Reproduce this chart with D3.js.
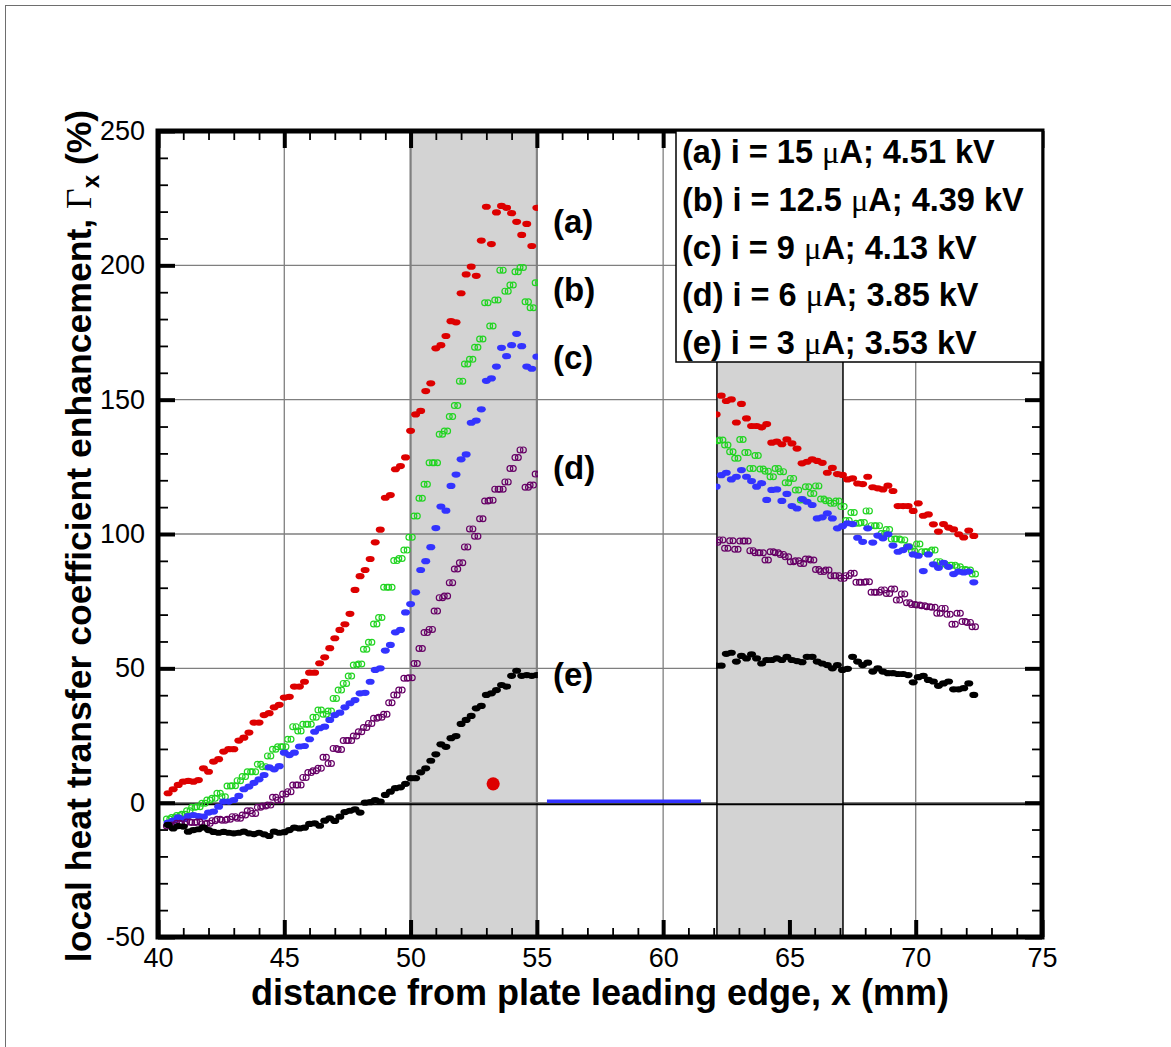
<!DOCTYPE html>
<html>
<head>
<meta charset="utf-8">
<script src="https://cdnjs.cloudflare.com/ajax/libs/d3/7.8.5/d3.min.js"></script>
<style>
body { margin: 0; background: #fff; }
svg { display: block; }
text { white-space: pre; }
</style>
</head>
<body>
<div id="chart"></div>
<script>
// sample positions (mm) of the two measured windows
var xLeft = [40.4,40.6,40.8,41.0,41.2,41.4,41.6,41.8,42.0,42.2,42.4,42.6,42.8,43.0,43.2,43.4,43.6,43.8,44.0,44.2,
    44.4,44.6,44.8,45.0,45.2,45.4,45.6,45.8,46.0,46.2,46.4,46.6,46.8,47.0,47.2,47.4,47.6,47.8,48.0,48.2,
    48.4,48.6,48.8,49.0,49.2,49.4,49.6,49.8,50.0,50.2,50.4,50.6,50.8,51.0,51.2,51.4,51.6,51.8,52.0,52.2,
    52.4,52.6,52.8,53.0,53.2,53.4,53.6,53.8,54.0,54.2,54.4,54.6,54.8,55.0];
var xRight = [62.1,62.3,62.5,62.7,62.9,63.1,63.3,63.5,63.7,63.9,64.1,64.3,64.5,64.7,64.9,65.1,65.3,65.5,65.7,65.9,
    66.1,66.3,66.5,66.7,66.9,67.1,67.3,67.5,67.7,67.9,68.1,68.3,68.5,68.7,68.9,69.1,69.3,69.5,69.7,69.9,
    70.1,70.3,70.5,70.7,70.9,71.1,71.3,71.5,71.7,71.9,72.1,72.3];

// Gamma_x (%)
var aLeft = [3.5,5.0,6.6,7.8,8.1,7.8,8.4,12.8,11.5,15.3,16.2,19.0,19.9,19.9,23.1,24.2,26.1,29.8,29.8,32.6,
    33.3,35.5,36.4,39.1,39.4,43.2,43.2,45.0,48.4,48.4,51.9,54.1,57.5,61.2,64.3,66.4,70.3,79.2,84.3,86.6,
    90.7,96.9,101.6,113.5,114.5,124.1,125.3,128.5,138.4,144.5,145.8,153.2,156.1,169.1,170.3,173.7,179.2,178.8,189.6,196.6,
    199.5,196.1,209.2,221.8,207.9,219.7,222.1,221.4,219.4,216.2,211.3,215.4,207.2,221.4];
var bLeft = [-6.1,-5.5,-4.8,-4.3,-3.0,-1.7,-1.5,-0.2,1.0,1.6,3.5,2.2,6.2,6.3,8.2,9.7,11.5,11.5,14.3,13.4,
    17.4,19.9,20.8,20.8,23.6,28.3,26.7,29.2,29.2,31.8,34.5,32.9,34.1,38.8,41.9,44.4,47.1,51.2,51.6,57.1,
    59.7,66.5,68.9,80.2,80.2,90.1,90.9,94.0,98.8,106.7,113.3,118.5,126.5,126.5,137.1,138.3,143.7,147.8,156.9,163.3,
    165.0,169.5,172.6,186.1,177.4,187.1,198.2,190.4,192.7,197.6,199.2,186.4,184.2,193.5];
var cLeft = [-7.4,-6.7,-5.5,-6.2,-5.0,-4.6,-5.0,-5.2,-3.7,-3.3,-1.5,0.4,0.4,1.0,2.5,5.0,6.0,7.4,8.7,10.3,
    13.1,12.4,13.6,18.6,17.7,18.6,20.9,21.1,23.6,26.4,27.7,28.3,30.8,32.6,33.5,35.5,37.0,38.2,40.7,40.9,
    45.0,49.4,50.0,56.6,58.7,63.4,64.3,70.8,73.9,78.3,86.6,89.9,95.1,102.2,110.2,108.7,117.9,122.1,127.8,129.6,
    141.4,142.2,146.4,157.0,157.9,162.3,169.3,166.2,170.3,174.5,169.9,162.3,161.5,166.0];
var dLeft = [-8.7,-8.3,-7.7,-7.9,-7.2,-7.4,-7.2,-7.9,-7.7,-6.7,-6.2,-6.5,-6.2,-5.2,-5.8,-4.6,-3.0,-4.0,-1.7,-1.2,
    -0.9,2.0,1.0,3.2,4.1,6.6,6.6,9.4,11.2,11.9,12.8,16.9,14.6,20.2,19.8,23.1,23.1,24.8,26.4,28.0,
    29.5,31.4,31.8,32.9,37.2,40.1,41.9,46.3,46.5,51.8,57.4,63.3,64.5,71.3,76.3,76.9,81.9,87.0,89.3,95.2,
    101.9,99.2,105.7,112.3,112.6,116.7,116.7,119.4,124.4,128.5,131.3,117.4,118.2,122.3];
var eLeft = [-8.3,-9.6,-8.7,-8.9,-10.8,-10.2,-9.9,-9.2,-10.2,-10.9,-11.2,-10.9,-11.2,-11.4,-11.2,-10.8,-11.4,-11.7,-11.2,-11.8,
    -12.4,-10.8,-11.2,-11.0,-10.2,-9.3,-9.6,-9.3,-7.9,-7.7,-8.6,-6.7,-5.8,-6.8,-5.2,-3.5,-3.0,-2.5,-3.7,0.0,
    0.2,1.0,0.4,2.9,4.1,5.4,5.7,7.0,9.1,9.1,11.3,12.8,15.6,18.0,21.7,20.8,24.0,24.8,29.3,30.8,
    32.3,35.1,36.0,40.1,40.7,41.9,43.8,43.2,47.2,49.1,47.2,47.5,47.2,47.5];

var aRight = [144.5,151.5,149.5,150.1,141.5,148.4,143.0,140.2,140.2,139.7,140.9,134.0,134.4,133.4,135.2,133.7,131.8,126.3,126.9,127.8,
    127.2,126.5,122.8,124.6,122.3,122.0,120.3,120.7,118.8,118.6,121.3,117.4,117.0,116.6,118.0,116.0,110.4,110.4,110.4,108.6,
    111.4,106.8,107.3,103.6,100.9,103.7,102.4,101.7,99.9,98.7,101.3,99.3];
var bRight = [134.7,135.0,133.1,130.6,128.2,135.2,130.3,124.4,129.2,124.2,123.4,121.3,124.4,123.2,119.1,120.7,116.4,112.7,117.6,115.1,
    117.9,113.0,112.4,111.4,112.3,110.2,105.0,108.0,104.0,104.3,108.6,103.1,103.1,100.2,101.7,98.1,98.1,97.8,95.3,93.7,
    96.3,93.4,93.4,94.0,89.7,88.8,88.4,88.4,87.8,86.8,86.6,85.1];
var cRight = [117.6,121.9,122.8,120.3,121.3,123.8,121.3,119.7,117.6,118.9,112.7,116.4,116.6,112.3,114.9,110.4,109.5,113.0,112.0,110.8,
    105.8,106.2,107.7,105.8,102.1,102.9,104.0,103.7,98.6,97.1,102.1,96.8,99.4,98.4,99.9,95.7,93.4,94.0,95.3,92.4,
    91.9,86.2,92.4,88.7,87.4,89.3,87.8,85.1,86.0,85.7,86.0,82.0];
var dRight = [96.9,97.8,94.7,97.5,94.3,97.4,97.4,93.8,93.0,93.0,90.3,93.4,93.0,92.4,91.5,89.7,90.0,89.0,90.7,90.3,
    86.8,86.0,86.6,84.5,84.5,83.5,84.5,85.4,82.0,82.0,82.2,78.3,78.3,79.2,77.9,79.5,75.4,77.7,74.4,73.8,
    73.6,73.3,72.9,72.7,70.5,72.3,70.1,66.4,70.5,67.4,67.1,65.5];
var eRight = [51.0,51.0,55.4,55.8,52.5,54.6,53.7,55.2,53.7,51.8,53.1,53.1,53.7,53.1,54.3,53.1,52.7,52.3,54.3,54.3,
    52.5,51.8,51.2,50.0,51.2,49.4,49.8,54.3,52.5,51.2,52.1,48.8,50.0,48.8,48.2,48.2,47.9,47.9,47.5,44.8,
    46.7,47.2,45.7,45.1,43.5,44.4,45.1,42.2,42.2,42.6,44.4,40.1];

var seriesKeys = ["(a)", "(b)", "(c)", "(d)", "(e)"];
var currents = ["15", "12.5", "9", "6", "3"];
var voltages = ["4.51", "4.39", "4.13", "3.85", "3.53"];
var leftValues = [aLeft, bLeft, cLeft, dLeft, eLeft];
var rightValues = [aRight, bRight, cRight, dRight, eRight];

var xTicks = [40, 45, 50, 55, 60, 65, 70, 75];
var yTicks = [-50, 0, 50, 100, 150, 200, 250];
var bands = [[50, 55], [62.13, 67.12]];
var probe = [53.27, 7.0];
var baseline = [[55.4, 0.5], [61.5, 0.5]];

// ---- layout / style ----
var W = 1171, H = 1047;
var plot = { left: 158, right: 1042, top: 131, bottom: 937 };
var colors = ["#dd0000", "#22d422", "#3333ff", "#660066", "#000000"];
var hollow = [false, true, false, true, false];
var labelPos = [[553, 233], [553, 301], [553, 369], [553, 479], [553, 686]];
var FONT = "Arial, 'Liberation Sans', Helvetica, sans-serif";
var SERIF = "'Liberation Serif', 'DejaVu Serif', serif";

function range(a, b, step) {
    var out = [];
    for (var v = a; v <= b + 1e-9; v += step) out.push(Math.round(v * 100) / 100);
    return out;
}

function drawChart(id) {

    var svg = d3.select(id).append("svg")
        .attr("width", W)
        .attr("height", H);

    svg.append("rect").attr("width", W).attr("height", H).attr("fill", "#fff");
    svg.append("rect")
        .attr("x", 5.5).attr("y", 5.5)
        .attr("width", W + 20).attr("height", H + 20)
        .attr("fill", "none").attr("stroke", "#6e6e6e").attr("stroke-width", 1);

    var x = d3.scaleLinear().domain([40, 75]).range([plot.left, plot.right]);
    var y = d3.scaleLinear().domain([-50, 250]).range([plot.bottom, plot.top]);

    var defs = svg.append("defs");
    defs.append("clipPath").attr("id", "clipLeft").append("rect")
        .attr("x", plot.left).attr("y", plot.top)
        .attr("width", x(bands[0][1]) + 1 - plot.left).attr("height", plot.bottom - plot.top);
    defs.append("clipPath").attr("id", "clipRight").append("rect")
        .attr("x", x(bands[1][0]) - 1).attr("y", plot.top)
        .attr("width", plot.right - x(bands[1][0]) + 1).attr("height", plot.bottom - plot.top);

    // first shaded strip sits under the grid
    svg.append("rect")
        .attr("x", x(bands[0][0])).attr("y", plot.top)
        .attr("width", x(bands[0][1]) - x(bands[0][0]))
        .attr("height", plot.bottom - plot.top)
        .attr("fill", "#d3d3d3");
    svg.selectAll(".bandEdge")
        .data(bands[0])
        .enter().append("line")
        .attr("x1", function(d) { return x(d); }).attr("x2", function(d) { return x(d); })
        .attr("y1", plot.top).attr("y2", plot.bottom)
        .attr("stroke", "#8a8a8a").attr("stroke-width", 2.2);

    // grid
    svg.selectAll(".vgrid")
        .data(xTicks.slice(1, -1))
        .enter().append("line")
        .attr("x1", function(d) { return x(d); }).attr("x2", function(d) { return x(d); })
        .attr("y1", plot.top).attr("y2", plot.bottom)
        .attr("stroke", "#7f7f7f").attr("stroke-width", 1.3);
    svg.selectAll(".hgrid")
        .data(yTicks.slice(1, -1))
        .enter().append("line")
        .attr("x1", plot.left).attr("x2", plot.right)
        .attr("y1", function(d) { return y(d); }).attr("y2", function(d) { return y(d); })
        .attr("stroke", "#7f7f7f").attr("stroke-width", 1.3);

    // second shaded strip covers the grid
    svg.append("rect")
        .attr("x", x(bands[1][0])).attr("y", plot.top)
        .attr("width", x(bands[1][1]) - x(bands[1][0]))
        .attr("height", plot.bottom - plot.top)
        .attr("fill", "#d3d3d3")
        .attr("stroke", "#000").attr("stroke-width", 1.5);

    // zero reference
    svg.append("line")
        .attr("x1", plot.left).attr("x2", plot.right)
        .attr("y1", y(0) + 1.5).attr("y2", y(0) + 1.5)
        .attr("stroke", "#000").attr("stroke-width", 2);

    svg.append("line")
        .attr("x1", x(baseline[0][0])).attr("x2", x(baseline[1][0]))
        .attr("y1", y(baseline[0][1])).attr("y2", y(baseline[1][1]))
        .attr("stroke", "#3333ff").attr("stroke-width", 3.5);

    svg.append("circle")
        .attr("cx", x(probe[0])).attr("cy", y(probe[1]))
        .attr("r", 6.6).attr("fill", "#dd0000");

    // data markers
    var marks = svg.append("g");
    seriesKeys.forEach(function(key, i) {
        drawMarkers(marks.append("g").attr("clip-path", "url(#clipLeft)"), xLeft, leftValues[i], i, x, y);
        drawMarkers(marks.append("g").attr("clip-path", "url(#clipRight)"), xRight, rightValues[i], i, x, y);
    });

    // inward ticks on all four sides
    var xMinor = range(40, 75, 1).filter(function(d) { return d % 5 !== 0; });
    var yMinor = range(-50, 250, 10).filter(function(d) { return d % 50 !== 0; });

    tickAxis(svg, d3.axisTop(x).tickValues(xMinor).tickSize(9), "translate(0," + plot.bottom + ")", 1.8);
    tickAxis(svg, d3.axisTop(x).tickValues(xTicks).tickSize(17), "translate(0," + plot.bottom + ")", 4);
    tickAxis(svg, d3.axisBottom(x).tickValues(xMinor).tickSize(9), "translate(0," + plot.top + ")", 1.8);
    tickAxis(svg, d3.axisBottom(x).tickValues(xTicks).tickSize(17), "translate(0," + plot.top + ")", 4);
    tickAxis(svg, d3.axisRight(y).tickValues(yMinor).tickSize(10), "translate(" + plot.left + ",0)", 1.8);
    tickAxis(svg, d3.axisRight(y).tickValues(yTicks).tickSize(17), "translate(" + plot.left + ",0)", 4);
    tickAxis(svg, d3.axisLeft(y).tickValues(yMinor).tickSize(10), "translate(" + plot.right + ",0)", 1.8);
    tickAxis(svg, d3.axisLeft(y).tickValues(yTicks).tickSize(17), "translate(" + plot.right + ",0)", 4);

    // frame
    svg.append("rect")
        .attr("x", plot.left).attr("y", plot.top)
        .attr("width", plot.right - plot.left).attr("height", plot.bottom - plot.top)
        .attr("fill", "none").attr("stroke", "#000").attr("stroke-width", 5);

    // tick labels (plain hyphen minus, as in the original)
    var plain = function(d) { return String(d); };
    var xAxis = svg.append("g")
        .attr("transform", "translate(0," + plot.bottom + ")")
        .call(d3.axisBottom(x).tickValues(xTicks).tickFormat(plain).tickSize(0).tickPadding(11));
    var yAxis = svg.append("g")
        .attr("transform", "translate(" + plot.left + ",0)")
        .call(d3.axisLeft(y).tickValues(yTicks).tickFormat(plain).tickSize(0).tickPadding(13));
    [xAxis, yAxis].forEach(function(g) {
        g.select(".domain").remove();
        g.selectAll("text")
            .attr("fill", "#000")
            .style("font-family", FONT)
            .style("font-size", "27px");
    });

    // legend
    var legendLeft = 676, legendBottom = 362;
    svg.append("rect")
        .attr("x", legendLeft).attr("y", plot.top)
        .attr("width", plot.right - legendLeft).attr("height", legendBottom - plot.top)
        .attr("fill", "#fff").attr("stroke", "#000").attr("stroke-width", 1.5);

    seriesKeys.forEach(function(key, i) {
        var t = svg.append("text")
            .attr("x", legendLeft + 6)
            .attr("y", 163 + i * 47.8)
            .style("font-family", FONT)
            .style("font-weight", "bold")
            .style("font-size", "32.5px");
        t.append("tspan").text(key + " i = " + currents[i] + " ");
        t.append("tspan").style("font-family", SERIF).style("font-weight", "normal").text("\u03bc");
        t.append("tspan").text("A; " + voltages[i] + " kV");
    });

    // curve tags
    svg.selectAll(".tag")
        .data(seriesKeys)
        .enter().append("text")
        .attr("x", function(d, i) { return labelPos[i][0]; })
        .attr("y", function(d, i) { return labelPos[i][1]; })
        .style("font-family", FONT)
        .style("font-weight", "bold")
        .style("font-size", "33px")
        .text(function(d) { return d; });

    // axis titles
    svg.append("text")
        .attr("x", 600)
        .attr("y", 1005)
        .attr("text-anchor", "middle")
        .style("font-family", FONT)
        .style("font-weight", "bold")
        .style("font-size", "36px")
        .text("distance from plate leading edge, x (mm)");

    var yt = svg.append("text")
        .attr("transform", "translate(91,536) rotate(-90)")
        .attr("text-anchor", "middle")
        .style("font-family", FONT)
        .style("font-weight", "bold")
        .style("font-size", "35.6px");
    yt.append("tspan").text("local heat transfer coefficient enhancement, ");
    yt.append("tspan").style("font-family", SERIF).style("font-weight", "normal").text("\u0393");
    yt.append("tspan").attr("dy", 8).style("font-size", "24px").text("x");
    yt.append("tspan").attr("dy", -8).text(" (%)");
}

function drawMarkers(g, xs, ys, i, x, y) {
    var pts = xs.map(function(d, k) { return [d, ys[k]]; });
    if (hollow[i]) {
        [-1.7, 1.7].forEach(function(off) {
            g.selectAll(null)
                .data(pts)
                .enter().append("circle")
                .attr("cx", function(d) { return x(d[0]) + off; })
                .attr("cy", function(d) { return y(d[1]); })
                .attr("r", 2.9)
                .attr("fill", "none")
                .attr("stroke", colors[i])
                .attr("stroke-width", 1.2);
        });
    } else {
        g.selectAll(null)
            .data(pts)
            .enter().append("ellipse")
            .attr("cx", function(d) { return x(d[0]); })
            .attr("cy", function(d) { return y(d[1]); })
            .attr("rx", 4.5)
            .attr("ry", 3.1)
            .attr("fill", colors[i]);
    }
}

function tickAxis(svg, axis, transform, width) {
    var g = svg.append("g")
        .attr("transform", transform)
        .call(axis.tickFormat(""));
    g.select(".domain").remove();
    g.selectAll("line").attr("stroke", "#000").attr("stroke-width", width);
}

drawChart("#chart");
</script>
</body>
</html>
